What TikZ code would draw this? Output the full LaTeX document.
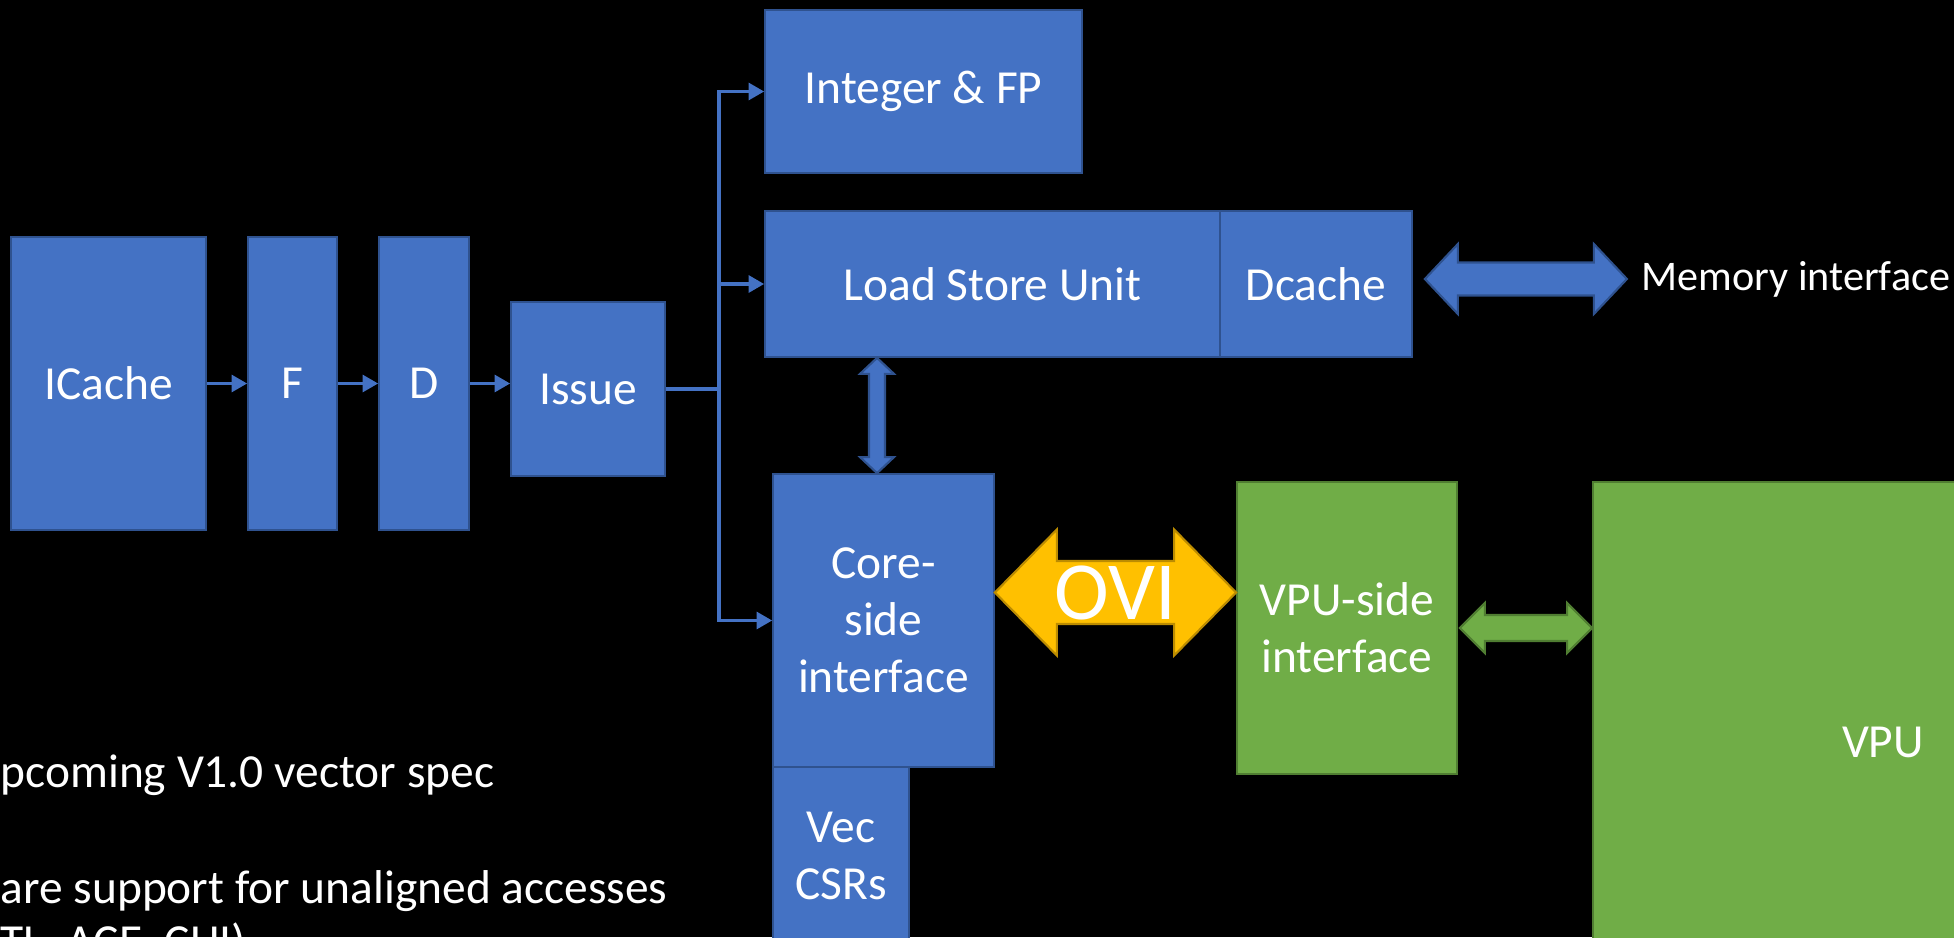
\documentclass[tikz,border=0pt]{standalone}
\usepackage{fontspec}
\setmainfont{Carlito}
\usetikzlibrary{positioning}
\usetikzlibrary{arrows.meta, calc}

\definecolor{boxblue}{HTML}{4472C4}
\definecolor{edgeblue}{HTML}{2F528F}
\definecolor{boxgreen}{HTML}{70AD47}
\definecolor{edgegreen}{HTML}{507E32}
\definecolor{ovigold}{HTML}{FFC000}
\definecolor{edgegold}{HTML}{BC8C00}

% block arrows with two heads: style, tip, tip, half shaft, half head, head length
\newcommand{\blockarrowh}[6]{%
\draw[#1] (#2) -- ++(#6,#5) -- ++(0,{#4-#5}) -- ($(#3)+(-#6,#4)$) -- ++(0,{#5-#4}) -- (#3)
  -- ++(-#6,-#5) -- ++(0,{#5-#4}) -- ($(#2)+(#6,-#4)$) -- ++(0,{#4-#5}) -- cycle;}
\newcommand{\blockarrowv}[6]{%
\draw[#1] (#2) -- ++(#5,#6) -- ++({#4-#5},0) -- ($(#3)+(#4,-#6)$) -- ++({#5-#4},0) -- (#3)
  -- ++(-#5,-#6) -- ++({#5-#4},0) -- ($(#2)+(-#4,#6)$) -- ++({#4-#5},0) -- cycle;}

\begin{document}
\begin{tikzpicture}[
  txt/.style={font=\fontsize{13.5}{16.2}\selectfont, text=white},
  unit/.style={txt, rectangle, fill=boxblue, draw=edgeblue, line width=0.5pt, align=center},
  vunit/.style={unit, fill=boxgreen, draw=edgegreen},
  wire/.style={draw=boxblue, line width=0.9pt, -{Triangle[length=4.4pt,width=4.8pt]}},
  bus/.style={draw=boxblue, line width=0.9pt},
  bigarrow/.style={fill=boxblue, draw=edgeblue, line width=0.6pt, line join=miter},
  greenarrow/.style={fill=boxgreen, draw=edgegreen, line width=0.6pt, line join=miter},
  oviarrow/.style={fill=ovigold, draw=edgegold, line width=0.6pt, line join=miter}]
\fill[black] (0,0) rectangle (19.54,9.37);
\useasboundingbox (0,0) rectangle (19.54,9.37);
\clip (0,0) rectangle (19.54,9.37);

\node[unit, minimum width=1.95cm, minimum height=2.93cm] (icache) at (1.085,5.535) {ICache};
\node[unit, minimum width=0.89cm, minimum height=2.93cm] (fetch) at (2.925,5.535) {F};
\node[unit, minimum width=0.90cm, minimum height=2.93cm] (decode) at (4.24,5.535) {D};
\node[unit, minimum width=1.54cm, minimum height=1.74cm] (issue) at (5.88,5.48) {Issue};
\node[unit, minimum width=3.17cm, minimum height=1.63cm] (intfp) at (9.235,8.455) {Integer \& FP};
\node[unit, minimum width=4.55cm, minimum height=1.46cm] (lsu) at (9.925,6.53) {Load Store Unit};
\node[unit, minimum width=1.92cm, minimum height=1.46cm] (dcache) at (13.16,6.53) {Dcache};
\node[unit, minimum width=2.21cm, minimum height=2.93cm] (core) at (8.835,3.165) {Core-\\side\\interface};
\node[unit, minimum width=1.36cm, minimum height=1.78cm] (vcsr) at (8.41,0.81) {Vec\\CSRs};
\node[vunit, minimum width=2.20cm, minimum height=2.92cm] (vpuside) at (13.47,3.09) {VPU-side\\interface};
\node[vunit, minimum width=5.80cm, minimum height=5.20cm] (vpu) at (18.83,1.95) {VPU};

\draw[wire] (icache.east) -- (fetch.west);
\draw[wire] (fetch.east) -- (decode.west);
\draw[wire] (decode.east) -- (decode.east -| issue.west);
\coordinate (split) at (7.19,5.48);
\draw[bus] (issue.east) -- (split);
\draw[wire] (split) |- (intfp.west);
\draw[wire] (split) |- (lsu.west);
\draw[wire] (split) |- (core.west);

\coordinate (lsuB) at ($(core.north)+(-0.065,0)$);
\coordinate (lsuT) at (lsuB |- lsu.south);
\blockarrowv{bigarrow}{lsuB}{lsuT}{0.08}{0.17}{0.16}

\coordinate (memL) at ($(dcache.east)+(0.12,0.05)$);
\coordinate (memR) at ($(memL)+(2.02,0)$);
\blockarrowh{bigarrow}{memL}{memR}{0.165}{0.35}{0.33}
\node[font=\fontsize{12}{14}\selectfont, text=white, inner sep=0, right=0.14cm of memR] (mem) {Memory interface};

\coordinate (oviL) at ($(core.east)+(0,0.28)$);
\coordinate (oviR) at (oviL -| vpuside.west);
\blockarrowh{oviarrow}{oviL}{oviR}{0.315}{0.63}{0.62}
\node[font=\fontsize{23.5}{23.5}\selectfont, text=white, inner sep=0] (ovi) at ($(oviL)!0.5!(oviR)$) {OVI};

\coordinate (vpuL) at ($(vpuside.east)+(0.02,0)$);
\coordinate (vpuR) at (vpuL -| vpu.west);
\blockarrowh{greenarrow}{vpuL}{vpuR}{0.13}{0.25}{0.25}

\node[txt, inner sep=0, anchor=base west] (note1) at (0,1.50) {pcoming V1.0 vector spec};
\node[txt, inner sep=0, anchor=base west] (note2) at (0,0.34) {are support for unaligned accesses};
\node[txt, inner sep=0, anchor=base west] (note3) at (0,-0.20) {TL, ACE, CHI)};

\end{tikzpicture}
\end{document}
